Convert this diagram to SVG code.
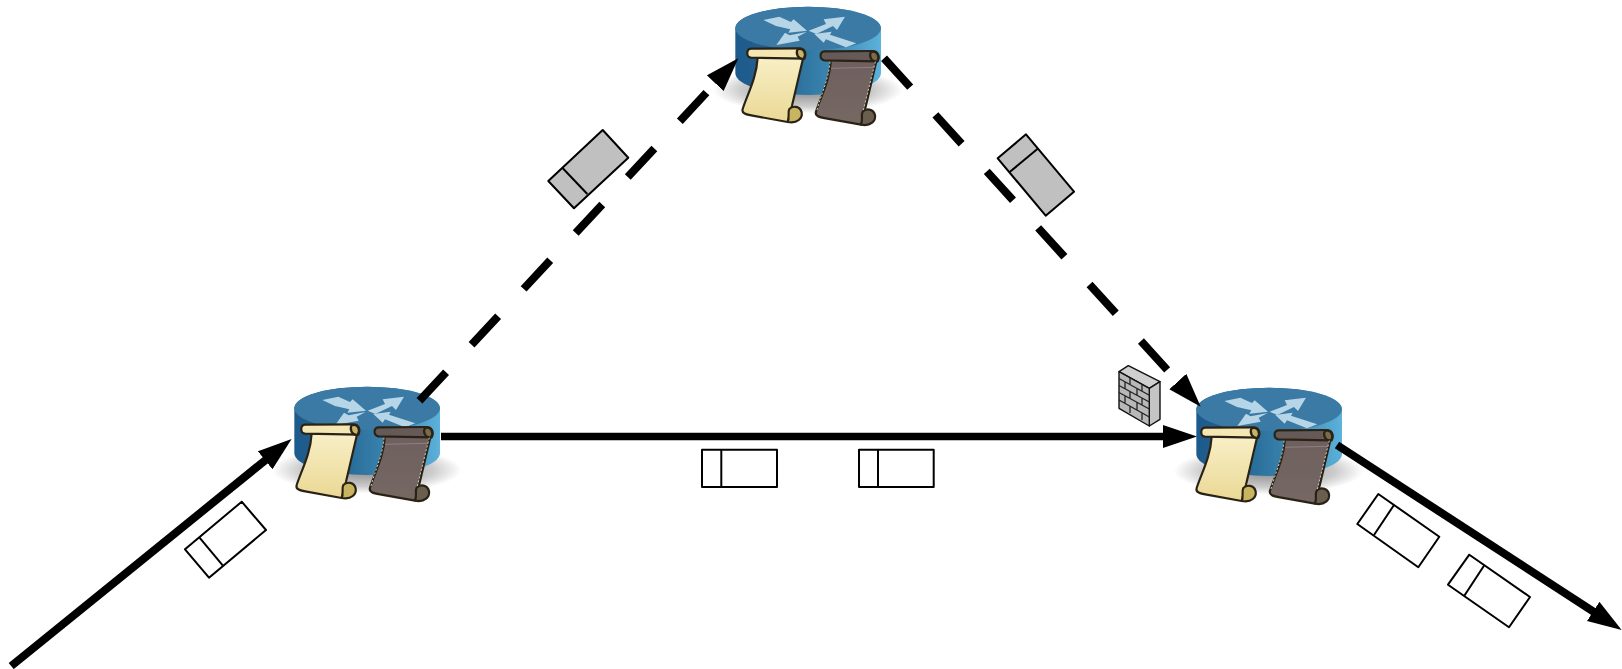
<svg xmlns="http://www.w3.org/2000/svg" width="1622" height="669" viewBox="0 0 1622 669">
<style>
.link{fill:none;stroke:#000;stroke-width:8;marker-end:url(#head)}
.flat{stroke-width:7.5}
.dash{stroke-dasharray:39 37.4}
.pkt{stroke:#000;stroke-width:2;stroke-linejoin:round;fill:#fff}
.pkt.g{fill:#c0c0c0}
.div{stroke:#000;stroke-width:2;fill:none}
.ol{stroke:#2a2414;stroke-width:6.5;stroke-linejoin:round}
.fw{stroke:#111;stroke-width:1.4;stroke-linejoin:round}
.br{stroke:#222;stroke-width:1.3;fill:none}
</style>
<defs>
<filter id="soft" x="-10%" y="-10%" width="120%" height="120%"><feGaussianBlur stdDeviation="1.5"/></filter>
<marker id="head" markerUnits="userSpaceOnUse" markerWidth="36" markerHeight="24" refX="4" refY="12" orient="auto"><path d="M0,0.5 L34,12 L0,23.5Z" fill="#000"/></marker>
<linearGradient id="side" x1="0" x2="1" y1="0" y2="0"><stop offset="0" stop-color="#1f5a8c"/><stop offset=".25" stop-color="#21608f"/><stop offset=".65" stop-color="#3b86b0"/><stop offset="1" stop-color="#5cb1da"/></linearGradient>
<linearGradient id="y" x1="0" x2="0" y1="0" y2="1"><stop offset="0" stop-color="#f8efc6"/><stop offset="1" stop-color="#ead894"/></linearGradient>
<linearGradient id="gr" x1="0" x2="0" y1="0" y2="1"><stop offset="0" stop-color="#6e605e"/><stop offset="1" stop-color="#756864"/></linearGradient>
<radialGradient id="sh"><stop offset="0" stop-color="#888"/><stop offset=".7" stop-color="#ccc"/><stop offset="1" stop-color="#fff"/></radialGradient>
<g id="router" filter="url(#soft)">
<ellipse cx="290" cy="300" rx="285" ry="70" fill="url(#sh)"/>
<path d="M73,115 A218.5,65 0 0 1 510,115 V250 A218.5,65 0 0 1 73,250Z" fill="url(#side)"/>
<ellipse cx="291.5" cy="115" rx="218.5" ry="65" fill="#3a7aa5"/>
<g fill="#b6d6e8">
<path d="M157,90 L205,80 L240,96 L248,88 L288,122 L232,128 L238,118 L195,108Z"/>
<path d="M293,122 L345,102 L338,88 L402,80 L378,120 L366,108 L316,132Z"/>
<path d="M310,132 L362,125 L357,134 L436,160 L405,172 L345,148 L338,158Z"/>
<path d="M287,126 L260,140 L266,152 L196,165 L222,128 L236,136Z"/>
</g>
</g>
<g id="scroll" filter="url(#soft)">
<path class="ol" fill="url(#y)" d="M125,190 C122,250 95,300 80,345 C76,358 90,362 110,365 L215,384 L228,335 L262,190Z"/>
<path class="ol" fill="#c9b560" d="M215,384 C245,390 260,372 257,355 C252,336 230,334 220,345 C214,355 222,372 215,384Z"/>
<path class="ol" fill="#f4e7b4" d="M105,164 L250,163 C267,163 272,180 265,194 L105,191 C90,189 90,166 105,164Z"/>
<path class="ol" fill="#c9b26a" d="M245,166 C264,160 272,180 263,194 C246,197 238,178 245,166Z"/>
</g>
<g id="scrollg" filter="url(#soft)">
<path class="ol" fill="url(#gr)" d="M125,190 C122,250 95,300 80,345 C76,358 90,362 110,365 L215,384 L228,335 L262,190Z"/>
<path class="ol" fill="#6a5e50" d="M215,384 C245,390 260,372 257,355 C252,336 230,334 220,345 C214,355 222,372 215,384Z"/>
<path class="ol" fill="#665a58" d="M105,164 L250,163 C267,163 272,180 265,194 L105,191 C90,189 90,166 105,164Z"/>
<path class="ol" fill="#7b6a48" d="M245,166 C264,160 272,180 263,194 C246,197 238,178 245,166Z"/>
<path d="M125,215 L255,212" stroke="#8d807c" stroke-width="3"/>
<path d="M258,195 L222,340" stroke="#cfc8c0" stroke-width="3" stroke-dasharray="6 6" fill="none"/>
<path d="M122,195 C118,250 92,300 82,345" stroke="#cfc8c0" stroke-width="3" stroke-dasharray="6 6" fill="none"/>
</g>
<g id="scrolls"><use href="#scroll"/><use href="#scrollg" x="220" y="8"/></g>
</defs>
<rect width="1622" height="669" fill="#fff"/>
<g id="node-left">
<use href="#router" transform="translate(270,370) scale(.3333)"/>
</g>
<g id="node-top">
<use href="#router" transform="translate(711,-10) scale(.3333)"/>
</g>
<g id="node-right">
<use href="#router" transform="translate(1172,371) scale(.3333)"/>
</g>
<g id="connectors">
<path class="link" d="M11.2,666 L268.3,457.8"/>
<path class="link flat" d="M441,436.5 L1167,436.5"/>
<path class="link dash" d="M419.5,400.7 L717.9,80.3"/>
<path class="link dash" d="M884,58.3 L1180.5,384.5"/>
<path class="link" d="M1337,445 L1596.5,613.6"/>
</g>
<g id="scrolls-left"><use href="#scrolls" transform="translate(270,370) scale(.3333)"/></g>
<g id="scrolls-top"><use href="#scrolls" transform="translate(716,-6) scale(.3333)"/></g>
<g id="scrolls-right"><use href="#scrolls" transform="translate(1170,373) scale(.3333)"/></g>
<g id="firewall">
<path class="fw" fill="#cfcfcf" d="M1119,371.7 L1128.3,365.7 L1160,381.7 L1149.3,388.3Z"/>
<path class="fw" fill="#c4c4c4" d="M1149.3,388.3 L1160,381.7 L1160,419.3 L1149.3,426Z"/>
<path class="fw" fill="#b8b8b8" d="M1119,371.7 L1149.3,388.3 L1149.3,426 L1119,408.3Z"/>
<path class="br" d="M1119,378.5 L1149.3,395.2 M1119,385.5 L1149.3,402 M1119,392.5 L1149.3,409 M1119,400 L1149.3,417 M1130,378 V385 M1142,384.5 V391.5 M1125,382 V389 M1137,388.5 V395.5 M1130,392 V399 M1142,398.5 V405.5 M1125,396 V403 M1137,402.5 V410 M1130,406 V413 M1142,413 V420"/>
</g>
<g id="packet-1"><path class="pkt" d="M185,549.3 L241.7,501.7 L266,530 L209,577.7Z"/><path class="div" d="M199.3,537.3 L222.7,565.3"/></g>
<g id="packet-2"><path class="pkt" d="M702,449.7 H777 V487 H702Z"/><path class="div" d="M721.3,449.7 V487"/></g>
<g id="packet-3"><path class="pkt" d="M859,449.7 H933.7 V487 H859Z"/><path class="div" d="M878,449.7 V487"/></g>
<g id="packet-4"><path class="pkt g" d="M548.3,181 L602.7,130 L628.3,157.7 L574,208.3Z"/><path class="div" d="M562.3,167.7 L587.3,194"/></g>
<g id="packet-5"><path class="pkt g" d="M997.7,158.3 L1026,134.3 L1074,191.7 L1045.7,215.7Z"/><path class="div" d="M1010,171.7 L1038.3,148.3"/></g>
<g id="packet-6"><path class="pkt" d="M1357.3,524 L1378.3,494 L1439.3,536.7 L1418.3,567.3Z"/><path class="div" d="M1374,535 L1394,505"/></g>
<g id="packet-7"><path class="pkt" d="M1448,584.7 L1469.3,554.7 L1530,597 L1509,627.3Z"/><path class="div" d="M1464.3,595.7 L1484.3,565.3"/></g>
</svg>
